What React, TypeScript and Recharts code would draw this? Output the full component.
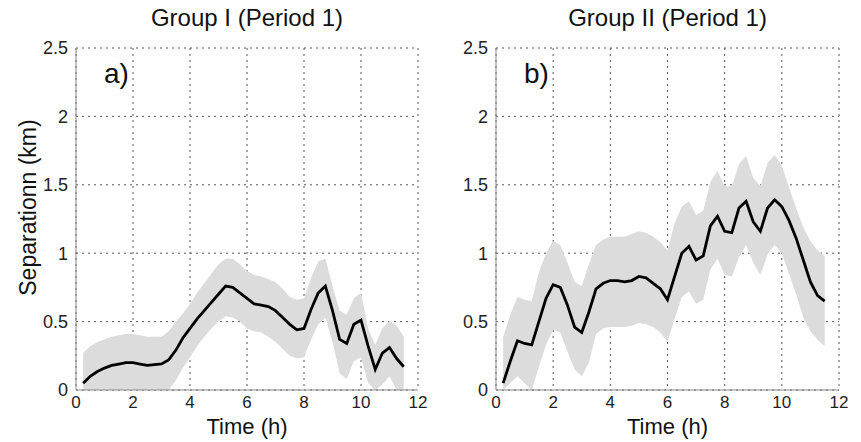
import React from 'react';
import { ComposedChart, Area, Line, XAxis, YAxis, CartesianGrid } from 'recharts';

const time = [
  0.25, 0.5, 0.75, 1, 1.25, 1.5, 1.75, 2, 2.25, 2.5, 2.75, 3, 3.25, 3.5, 3.75, 4,
  4.25, 4.5, 4.75, 5, 5.25, 5.5, 5.75, 6, 6.25, 6.5, 6.75, 7, 7.25, 7.5, 7.75, 8,
  8.25, 8.5, 8.75, 9, 9.25, 9.5, 9.75, 10, 10.25, 10.5, 10.75, 11, 11.25, 11.5,
];

// Group I (Period 1)
const groupIMean = [
  0.05, 0.1, 0.135, 0.16, 0.18, 0.19, 0.2, 0.2, 0.19, 0.18, 0.185, 0.19, 0.22, 0.29, 0.38, 0.45,
  0.52, 0.58, 0.64, 0.7, 0.76, 0.75, 0.71, 0.67, 0.63, 0.62, 0.61, 0.58, 0.53, 0.48, 0.44, 0.45,
  0.59, 0.71, 0.76, 0.58, 0.37, 0.34, 0.48, 0.51, 0.32, 0.15, 0.27, 0.31, 0.23, 0.17,
];
const groupIUpper = [
  0.27, 0.32, 0.35, 0.37, 0.39, 0.4, 0.41, 0.41, 0.4, 0.39, 0.39, 0.39, 0.43, 0.5, 0.56, 0.63,
  0.71, 0.78, 0.85, 0.92, 0.96, 0.96, 0.92, 0.87, 0.84, 0.83, 0.81, 0.79, 0.74, 0.68, 0.66, 0.67,
  0.82, 0.94, 0.96, 0.76, 0.58, 0.55, 0.67, 0.71, 0.45, 0.33, 0.45, 0.51, 0.47, 0.39,
];
const groupILower = [
  0, 0, 0, 0, 0, 0, 0, 0, 0, 0, 0, 0, 0, 0.07, 0.16, 0.24,
  0.32, 0.39, 0.45, 0.5, 0.54, 0.53, 0.5, 0.45, 0.43, 0.42, 0.39, 0.35, 0.3, 0.25, 0.23, 0.24,
  0.37, 0.48, 0.53, 0.35, 0.12, 0.08, 0.21, 0.24, 0.05, 0, 0.04, 0.1, 0, 0,
];

// Group II (Period 1)
const groupIIMean = [
  0.05, 0.21, 0.36, 0.34, 0.33, 0.5, 0.67, 0.77, 0.75, 0.62, 0.46, 0.42, 0.57, 0.74, 0.78, 0.8,
  0.8, 0.79, 0.8, 0.83, 0.82, 0.78, 0.74, 0.66, 0.83, 1.0, 1.05, 0.95, 0.98, 1.2, 1.27, 1.16,
  1.15, 1.33, 1.38, 1.23, 1.16, 1.33, 1.39, 1.34, 1.24, 1.11, 0.95, 0.79, 0.69, 0.65,
];
const groupIIUpper = [
  0.39, 0.55, 0.68, 0.66, 0.65, 0.86, 1.0, 1.09, 1.06, 0.93, 0.79, 0.76, 0.92, 1.06, 1.1, 1.12,
  1.12, 1.12, 1.14, 1.16, 1.15, 1.12, 1.08, 1.02, 1.22, 1.34, 1.38, 1.28, 1.31, 1.52, 1.6, 1.49,
  1.49, 1.65, 1.71, 1.55, 1.49, 1.66, 1.72, 1.64, 1.48, 1.33, 1.19, 1.09, 1.02, 0.98,
];
const groupIILower = [
  0, 0.05, 0.1, 0.05, 0, 0.17, 0.33, 0.44, 0.42, 0.28, 0.15, 0.1, 0.2, 0.41, 0.45, 0.46,
  0.46, 0.46, 0.47, 0.49, 0.48, 0.46, 0.42, 0.35, 0.52, 0.68, 0.72, 0.63, 0.66, 0.88, 0.96, 0.84,
  0.83, 0.97, 1.06, 0.93, 0.84, 0.99, 1.06, 1.0, 0.85, 0.7, 0.53, 0.43, 0.37, 0.32,
];

const xTicks = [0, 2, 4, 6, 8, 10, 12];
const yTicks = [0, 0.5, 1, 1.5, 2, 2.5];

const FONT = '"Liberation Sans", Arial, sans-serif';

const buildRows = (mean: number[], lower: number[], upper: number[]) =>
  time.map((t, i) => ({ t, mean: mean[i], band: [lower[i], upper[i]] }));

interface PanelProps {
  rows: any[];
  left: number;
  width: number;
  marginLeft: number;
  marginRight: number;
  title: string;
  tag: string;
}

const Panel: React.FC<PanelProps> = ({ rows, left, width, marginLeft, marginRight, title, tag }) => {
  const plotLeft = left + marginLeft + 40;
  const plotRight = left + width - marginRight;
  const center = (plotLeft + plotRight) / 2;
  return (
    <>
      <div style={{ position: 'absolute', left, top: 0 }}>
        <ComposedChart
          width={width}
          height={442}
          data={rows}
          margin={{ top: 48, right: marginRight, bottom: 0, left: marginLeft }}
        >
          <CartesianGrid stroke="#555" strokeDasharray="2 4" />
          <XAxis
            dataKey="t"
            type="number"
            domain={[0, 12]}
            ticks={xTicks}
            height={52}
            tickLine={false}
            axisLine={{ stroke: '#888' }}
            tick={{ fill: '#222', fontSize: 17, fontFamily: FONT }}
            tickMargin={0}
          />
          <YAxis
            type="number"
            domain={[0, 2.5]}
            ticks={yTicks}
            width={40}
            tickLine={false}
            axisLine={{ stroke: '#888' }}
            tick={{ fill: '#222', fontSize: 18, fontFamily: FONT }}
            tickMargin={2}
          />
          <Area
            dataKey="band"
            type="linear"
            stroke="none"
            fill="#dcdcdc"
            fillOpacity={1}
            isAnimationActive={false}
            activeDot={false}
          />
          <Line
            dataKey="mean"
            type="linear"
            stroke="#000"
            strokeWidth={2.8}
            dot={false}
            activeDot={false}
            isAnimationActive={false}
          />
        </ComposedChart>
      </div>
      <div
        style={{
          position: 'absolute',
          left: center - 150,
          width: 300,
          top: 4,
          textAlign: 'center',
          fontFamily: FONT,
          fontSize: 24,
          color: '#111',
        }}
      >
        {title}
      </div>
      <div
        style={{
          position: 'absolute',
          left: center - 150,
          width: 300,
          top: 415,
          textAlign: 'center',
          fontFamily: FONT,
          fontSize: 22,
          lineHeight: '24px',
          color: '#111',
        }}
      >
        Time (h)
      </div>
      <div
        style={{
          position: 'absolute',
          left: plotLeft + 28,
          top: 58,
          fontFamily: FONT,
          fontSize: 28,
          color: '#111',
        }}
      >
        {tag}
      </div>
    </>
  );
};

export default function App() {
  const rowsI = buildRows(groupIMean, groupILower, groupIUpper);
  const rowsII = buildRows(groupIIMean, groupIILower, groupIIUpper);
  return (
    <div style={{ position: 'absolute', left: 0, top: 0, width: 861, height: 442, background: '#fff' }}>
      <Panel rows={rowsI} left={0} width={430} marginLeft={36} marginRight={12} title="Group I (Period 1)" tag="a)" />
      <Panel rows={rowsII} left={430} width={431} marginLeft={26} marginRight={22} title="Group II (Period 1)" tag="b)" />
      <div
        style={{
          position: 'absolute',
          left: 28 - 120,
          top: 208 - 14,
          width: 240,
          textAlign: 'center',
          transform: 'rotate(-90deg)',
          fontFamily: FONT,
          fontSize: 23,
          color: '#111',
          whiteSpace: 'nowrap',
        }}
      >
        Separationn (km)
      </div>
    </div>
  );
}
